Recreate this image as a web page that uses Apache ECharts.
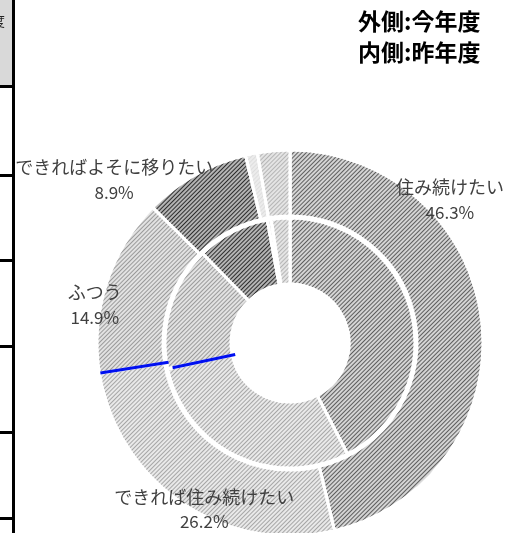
<!DOCTYPE html>
<html>
<head>
<meta charset="utf-8">
<style>
	html, body { margin: 0; padding: 0; background: #fff; }
	#main { width: 514px; height: 533px; }
</style>
<script src="https://cdn.jsdelivr.net/npm/echarts/dist/echarts.min.js"></script>
</head>
<body>
<div id="main"></div>
<script>
// 回答区分
var categories = ['住み続けたい', 'できれば住み続けたい', 'ふつう', 'できればよそに移りたい', 'よそに移りたい', '無回答'];
// 外側:今年度 (%)
var thisYear = [46.3, 26.2, 14.9, 8.9, 1.0, 2.7];
// 内側:昨年度 (%)
var lastYear = [42.4, 29.3, 16.0, 9.4, 0.5, 2.4];
// ラベルを出す区分(外側のみ)
var labelShown = [true, true, true, true, false, false];
var legendLines = ['外側:今年度', '内側:昨年度'];

// 模様(斜線)
var fills = [
	{ base: '#d4d4d4', line: '#5e5e5e', gap: 2 },
	{ base: '#e9e9e9', line: '#a6a6a6', gap: 2 },
	{ base: '#e2e2e2', line: '#9a9a9a', gap: 2 },
	{ base: '#b4b4b4', line: '#2e2e2e', gap: 1.5 },
	{ base: '#ececec', line: '#dddddd', gap: 2 },
	{ base: '#e4e4e4', line: '#b5b5b5', gap: 2 }
];
// ラベル位置の調整 (dx, dy)
var labelShift = [[-2, -124], [5, 31], [-40, 12], [-96, -21], [0, 0], [0, 0]];

var center = [290, 343];

function makeData(values, withLabel){
	var d = [];
	for (var i = 0; i < values.length; i++) {
		var f = fills[i];
		d.push({
			name: categories[i],
			value: values[i],
			label: { show: withLabel && labelShown[i] },
			itemStyle: {
				color: f.base,
				decal: {
					symbol: 'rect',
					symbolSize: 1,
					color: f.line,
					dashArrayX: [1, 0],
					dashArrayY: [1, f.gap],
					rotation: -Math.PI / 4
				}
			}
		});
	}
	return d;
}

// 境界線(青)の位置は累計値から
function cum(values, n){
	var s = 0;
	for (var i = 0; i < n; i++) s += values[i];
	return s;
}
var outerEdge = cum(thisYear, 2);
var innerEdge = cum(lastYear, 2);

var chart = echarts.init(document.getElementById('main'));
var option = {
	animation: false,
	backgroundColor: '#fff',
	polar: { center: center, radius: 193 },
	angleAxis: { type: 'value', min: 0, max: 100, startAngle: 90, clockwise: true, show: false },
	radiusAxis: { type: 'value', min: 0, max: 193, show: false },
	graphic: [
		// 左側のセル
		{ type: 'rect', shape: { x: 0, y: 0, width: 13, height: 86 }, style: { fill: '#d9d9d9' } },
		{ type: 'text', left: -9, top: 14, style: { text: '度', font: '14px "Noto Sans CJK JP"', fill: '#222' } },
		{ type: 'rect', shape: { x: 12, y: 0, width: 3, height: 533 }, style: { fill: '#000' } },
		{ type: 'rect', shape: { x: 0, y: 85, width: 13, height: 3 }, style: { fill: '#000' } },
		{ type: 'rect', shape: { x: 0, y: 174, width: 13, height: 3 }, style: { fill: '#000' } },
		{ type: 'rect', shape: { x: 0, y: 259, width: 13, height: 3 }, style: { fill: '#000' } },
		{ type: 'rect', shape: { x: 0, y: 345, width: 13, height: 3 }, style: { fill: '#000' } },
		{ type: 'rect', shape: { x: 0, y: 431, width: 13, height: 3 }, style: { fill: '#000' } },
		{ type: 'rect', shape: { x: 0, y: 517, width: 13, height: 3 }, style: { fill: '#000' } },
		// 凡例の代わりのテキスト
		{
			type: 'text', left: 358, top: 6,
			style: {
				text: legendLines.join('\n'),
				font: 'bold 23px "Noto Sans CJK JP"',
				lineHeight: 31,
				fill: '#000'
			}
		}
	],
	series: [
		{
			name: '今年度',
			type: 'pie',
			center: center,
			radius: [127, 193],
			startAngle: 90,
			clockwise: true,
			silent: true,
			itemStyle: { borderColor: '#fff', borderWidth: 3 },
			label: {
				show: true,
				position: 'inside',
				rotate: 0,
				formatter: '{n|{b}}\n{v|{c}%}',
				rich: {
					n: { color: '#404040', fontFamily: 'Noto Sans CJK JP', fontSize: 18, lineHeight: 25 },
					v: { color: '#404040', fontFamily: 'Noto Sans CJK JP', fontSize: 17, lineHeight: 25 }
				}
			},
			labelLine: { show: false },
			labelLayout: function(params){
				var s = labelShift[params.dataIndex];
				return { dx: s[0], dy: s[1], hideOverlap: false };
			},
			data: makeData(thisYear, true),
			z: 2
		},
		{
			name: '昨年度',
			type: 'pie',
			center: center,
			radius: [59, 125],
			startAngle: 90,
			clockwise: true,
			silent: true,
			itemStyle: { borderColor: '#fff', borderWidth: 3 },
			label: { show: false },
			labelLine: { show: false },
			data: makeData(lastYear, false),
			z: 2
		},
		{
			type: 'line',
			coordinateSystem: 'polar',
			symbol: 'none',
			silent: true,
			lineStyle: { color: '#0010f0', width: 3 },
			data: [[123, outerEdge], [192, outerEdge]],
			z: 5
		},
		{
			type: 'line',
			coordinateSystem: 'polar',
			symbol: 'none',
			silent: true,
			lineStyle: { color: '#0010f0', width: 3 },
			data: [[56, innerEdge], [120, innerEdge]],
			z: 5
		}
	]
};
chart.setOption(option);
</script>
</body>
</html>
